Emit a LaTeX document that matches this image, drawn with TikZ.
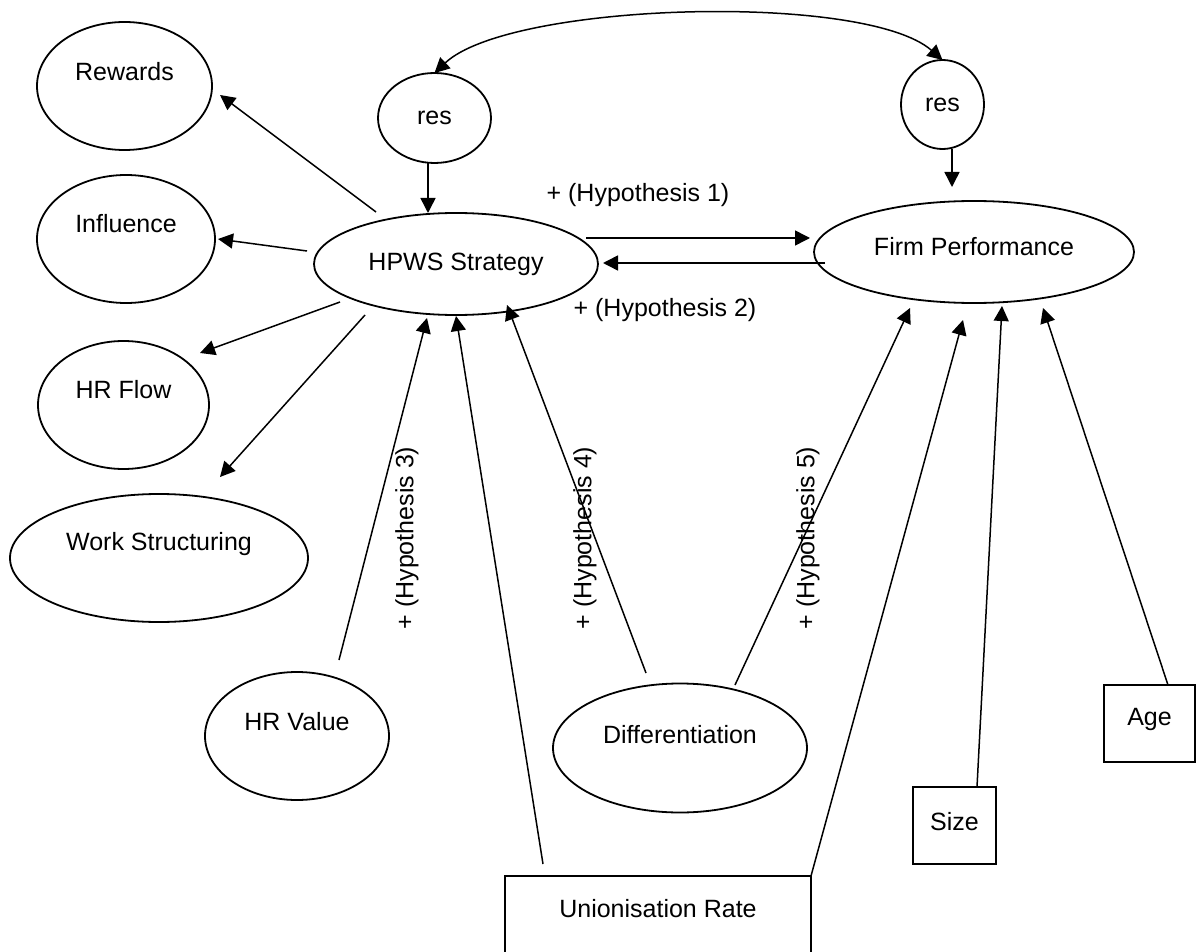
\documentclass[tikz,border=0pt]{standalone}
\usepackage{fontspec}
\setmainfont{Liberation Sans}
\usetikzlibrary{shapes.geometric,arrows.meta}
\begin{document}
\begin{tikzpicture}[x=1pt,y=-1pt,
  every node/.style={font=\fontsize{25}{30}\selectfont, inner sep=0pt, outer sep=0pt},
  ell/.style={draw, ellipse, line width=1.8pt},
  boxn/.style={draw, rectangle, line width=1.8pt},
  arr/.style={line width=1.5pt, -{Triangle[length=15pt,width=15pt]}},
  hyp/.style={rotate=90}]
\useasboundingbox (0,0) rectangle (1197,952);
\clip (0,0) rectangle (1197,952);

% ellipses
\node[ell, minimum width=175pt, minimum height=128pt] (rew) at (124.5,86) {};
\node (rewt) at ([shift={(0,-14)}]rew.center) {Rewards};
\node[ell, minimum width=178pt, minimum height=128pt] (inf) at (126,239) {};
\node (inft) at ([shift={(0,-15)}]inf.center) {Influence};
\node[ell, minimum width=171pt, minimum height=128pt] (hrf) at (123.5,405) {};
\node (hrft) at ([shift={(0,-15)}]hrf.center) {HR Flow};
\node[ell, minimum width=298pt, minimum height=128pt] (ws) at (159,558) {};
\node (wst) at ([shift={(0,-14)}]ws.center) {Work Structuring};
\node[ell, minimum width=284pt, minimum height=102pt] (hpws) at (456,264) {};
\node (hpwst) at (hpws.center) {HPWS Strategy};
\node[ell, minimum width=113pt, minimum height=90pt] (resL) at (434.5,118) {};
\node (resLt) at (resL.center) {res};
\node[ell, minimum width=83pt, minimum height=89pt] (resR) at (942.5,104.5) {};
\node (resRt) at (resR.center) {res};
\node[ell, minimum width=320pt, minimum height=102pt] (fp) at (974,252) {};
\node (fpt) at ([shift={(0,-5)}]fp.center) {Firm Performance};
\node[ell, minimum width=184pt, minimum height=128pt] (hrv) at (297,736) {};
\node (hrvt) at ([shift={(0,-14)}]hrv.center) {HR Value};
\node[ell, minimum width=254pt, minimum height=129pt] (dif) at (680,748) {};
\node (dift) at ([shift={(0,-13)}]dif.center) {Differentiation};

% boxes
\node[boxn, minimum width=306pt, minimum height=130pt] (uni) at (658,941) {};
\node (unit) at ([shift={(0,-32)}]uni.center) {Unionisation Rate};
\node[boxn, minimum width=83pt, minimum height=77pt] (size) at (954.5,825.5) {};
\node (sizet) at ([shift={(0,-4)}]size.center) {Size};
\node[boxn, minimum width=91pt, minimum height=77pt] (age) at (1149.5,723.5) {};
\node (aget) at ([shift={(0,-4)}]age.center) {Age};

% curved covariance
\draw[line width=1.5pt, {Triangle[length=15pt,width=15pt]}-{Triangle[length=15pt,width=15pt]}]
  (resL.north) .. controls (510,2) and (865,-8) .. (resR.north);

% res arrows
\draw[arr] ([shift={(-6.5,45)}]resL.center) -- ([shift={(-28,-51)}]hpws.center);
\draw[arr] ([shift={(9.5,44.5)}]resR.center) -- ([shift={(-22,-65)}]fp.center);

% HPWS to dimensions
\draw[arr] ([shift={(-80,-52)}]hpws.center) -- ([shift={(95.5,9)}]rew.center);
\draw[arr] ([shift={(-149,-13)}]hpws.center) -- ([shift={(92,0)}]inf.center);
\draw[arr] ([shift={(-116,38)}]hpws.center) -- ([shift={(76.5,-52)}]hrf.center);
\draw[arr] ([shift={(-91,51)}]hpws.center) -- ([shift={(61,-81)}]ws.center);

% hypotheses 1, 2
\draw[arr] ([shift={(130,-26)}]hpws.center) -- ([shift={(-164,-14)}]fp.center);
\draw[arr] ([shift={(-149,11)}]fp.center) -- ([shift={(147,-1)}]hpws.center);
\node (h1) at (638,195) {+ (Hypothesis 1)};
\node (h2) at (665,310) {+ (Hypothesis 2)};

% into HPWS
\draw[arr] ([shift={(42,-76)}]hrv.center) -- ([shift={(-29,54)}]hpws.center);
\draw[arr] ([shift={(-115,-77)}]uni.center) -- ([shift={(0,52)}]hpws.center);
\draw[arr] ([shift={(-34,-75)}]dif.center) -- ([shift={(51,41)}]hpws.center);

% into Firm Performance
\draw[arr] ([shift={(55,-63)}]dif.center) -- ([shift={(-64,56)}]fp.center);
\draw[arr] (uni.north east) -- ([shift={(-11,68)}]fp.center);
\draw[arr] ([shift={(22.5,-38.5)}]size.center) -- ([shift={(28,54)}]fp.center);
\draw[arr] ([shift={(18.5,-38.5)}]age.center) -- ([shift={(69,56)}]fp.center);

% rotated hypothesis labels
\node[hyp] (h3) at (407,538) {+ (Hypothesis 3)};
\node[hyp] (h4) at (585,538) {+ (Hypothesis 4)};
\node[hyp] (h5) at (808,538) {+ (Hypothesis 5)};
\end{tikzpicture}
\end{document}
